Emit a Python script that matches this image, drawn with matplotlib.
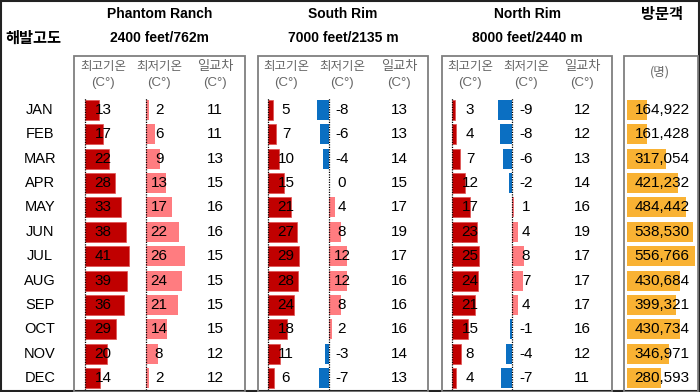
import matplotlib.pyplot as plt
from matplotlib.patches import Rectangle

plt.rcParams['font.family'] = ['Liberation Sans', 'Noto Sans CJK KR', 'DejaVu Sans']

# 데이터
months = ["JAN", "FEB", "MAR", "APR", "MAY", "JUN", "JUL", "AUG", "SEP", "OCT", "NOV", "DEC"]

phantom_high = [13, 17, 22, 28, 33, 38, 41, 39, 36, 29, 20, 14]
phantom_low = [2, 6, 9, 13, 17, 22, 26, 24, 21, 14, 8, 2]
phantom_diff = [11, 11, 13, 15, 16, 16, 15, 15, 15, 15, 12, 12]

south_high = [5, 7, 10, 15, 21, 27, 29, 28, 24, 18, 11, 6]
south_low = [-8, -6, -4, 0, 4, 8, 12, 12, 8, 2, -3, -7]
south_diff = [13, 13, 14, 15, 17, 19, 17, 16, 16, 16, 14, 13]

north_high = [3, 4, 7, 12, 17, 23, 25, 24, 21, 15, 8, 4]
north_low = [-9, -8, -6, -2, 1, 4, 8, 7, 4, -1, -4, -7]
north_diff = [12, 12, 13, 14, 16, 19, 17, 17, 17, 16, 12, 11]

visitors = [164922, 161428, 317054, 421232, 484442, 538530,
            556766, 430684, 399321, 430734, 346971, 280593]

sites = ["Phantom Ranch", "South Rim", "North Rim"]
altitudes = ["2400 feet/762m", "7000 feet/2135 m", "8000 feet/2440 m"]

RED = "#C00000"
PINK = "#FF7C80"
BLUE = "#0B6FC2"
ORANGE = "#F9B233"
GRAY = "#666666"

W, H = 700, 392
ROW_TOP, ROW_BOT = 97.8, 390.2

fig = plt.figure(figsize=(7, 3.92), dpi=100)
over = fig.add_axes([0, 0, 1, 1])
over.set_xlim(0, W)
over.set_ylim(H, 0)
over.axis("off")


def row_y(i):
    return ROW_TOP + (i + 0.5) * (ROW_BOT - ROW_TOP) / len(months)


def bar_axes(x0, x1, base, ppu):
    ax = fig.add_axes([x0 / W, (H - ROW_BOT) / H, (x1 - x0) / W, (ROW_BOT - ROW_TOP) / H])
    ax.set_xlim((x0 - base) / ppu, (x1 - base) / ppu)
    ax.set_ylim(len(months) - 0.5, -0.5)
    ax.axis("off")
    ax.patch.set_alpha(0)
    return ax


# 바깥 테두리
over.add_patch(Rectangle((1, 1), W - 2.5, H - 2.5, fill=False, ec="#222222", lw=1.5))

# 머리글
over.text(33, 38, "해발고도", ha="center", va="center", fontsize=11,
          fontweight="bold", family=["Noto Sans CJK KR"])
over.text(662, 14, "방문객", ha="center", va="center", fontsize=11,
          fontweight="bold", family=["Noto Sans CJK KR"])

for i, m in enumerate(months):
    over.text(40, row_y(i), m, ha="center", va="center", fontsize=10.5)

panels = [
    # box left, box right, high base, high text, low base, low text, diff text
    (74, 245, 85, 103, 146, 159, 215, phantom_high, phantom_low, phantom_diff),
    (258, 428, 268, 286, 329, 342, 399, south_high, south_low, south_diff),
    (442, 612, 452, 470, 512, 526, 582, north_high, north_low, north_diff),
]

for k, (bl, br, hb, ht, lb, lt, dt, hi, lo, df) in enumerate(panels):
    cx = (bl + br) / 2
    over.text(cx, 14, sites[k], ha="center", va="center", fontsize=10, fontweight="bold")
    over.text(cx, 38, altitudes[k], ha="center", va="center", fontsize=10, fontweight="bold")
    over.add_patch(Rectangle((bl, 56), br - bl, 336, fill=False, ec="#7F7F7F", lw=1.3))

    for x, lab in [(ht, "최고기온"), (lt, "최저기온"), (dt, "일교차")]:
        over.text(x, 66, lab, ha="center", va="center", fontsize=9.5 if lab == "일교차" else 9,
                  color=GRAY, family=["Noto Sans CJK KR"])
        over.text(x, 83, "(C°)", ha="center", va="center", fontsize=9.5, color=GRAY)

    ax_h = bar_axes(bl + 2, lb - 8, hb, 1.08)
    ax_h.barh(range(len(months)), hi, height=0.82, color=RED, ec="#E05050", lw=0.5)
    ax_h.axvline(0, color="black", ls=(0, (1, 1)), lw=0.9)
    for i, v in enumerate(hi):
        ax_h.text((ht - hb) / 1.08, i, str(v), ha="center", va="center", fontsize=11)

    ax_l = bar_axes(lb - 22, dt - 20, lb, 1.5)
    cols = [PINK if v >= 0 else BLUE for v in lo]
    ax_l.barh(range(len(months)), lo, height=0.82, color=cols)
    ax_l.axvline(0, color="black", ls=(0, (1, 1)), lw=0.9)
    for i, v in enumerate(lo):
        ax_l.text((lt - lb) / 1.5, i, str(v), ha="center", va="center", fontsize=11)

    for i, v in enumerate(df):
        over.text(dt, row_y(i), str(v), ha="center", va="center", fontsize=11)

# 방문객
over.add_patch(Rectangle((624, 56), 74, 336, fill=False, ec="#7F7F7F", lw=1.3))
over.text(660, 72, "(명)", ha="center", va="center", fontsize=9, color=GRAY,
          family=["Noto Sans CJK KR"])
ppu_v = 68 / 556766
ax_v = bar_axes(625, 697, 627, ppu_v)
ax_v.barh(range(len(months)), visitors, height=0.82, color=ORANGE)
for i, v in enumerate(visitors):
    ax_v.text((662 - 627) / ppu_v, i, f"{v:,}", ha="center", va="center", fontsize=11)

fig.savefig("out.png", dpi=100)
